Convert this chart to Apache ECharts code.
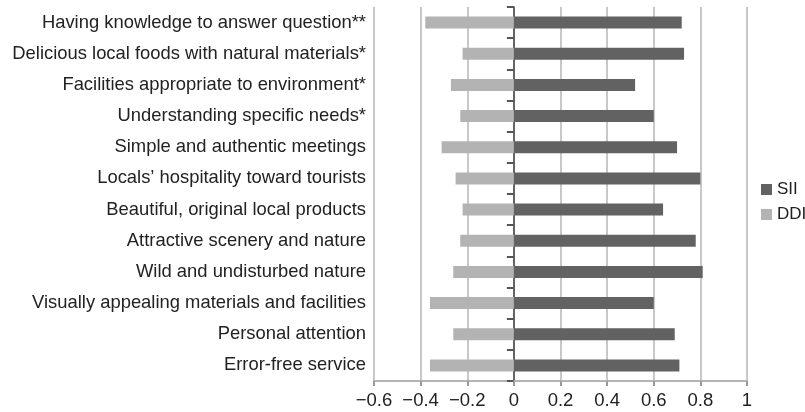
<!DOCTYPE html>
<html>
<head>
<meta charset="utf-8">
<script src="https://cdn.jsdelivr.net/npm/echarts@6/dist/echarts.min.js"></script>
<style>html,body{margin:0;padding:0;background:#fff}#c{width:805px;height:412px}</style>
</head>
<body>
<div id="c"></div>
<script>
const categories = [
  "Having knowledge to answer question**",
  "Delicious local foods with natural materials*",
  "Facilities appropriate to environment*",
  "Understanding specific needs*",
  "Simple and authentic meetings",
  "Locals\u2019 hospitality toward tourists",
  "Beautiful, original local products",
  "Attractive scenery and nature",
  "Wild and undisturbed nature",
  "Visually appealing materials and facilities",
  "Personal attention",
  "Error-free service"
];
const sii = [0.72, 0.73, 0.52, 0.60, 0.70, 0.80, 0.64, 0.78, 0.81, 0.60, 0.69, 0.71];
const ddi = [-0.38, -0.22, -0.27, -0.23, -0.31, -0.25, -0.22, -0.23, -0.26, -0.36, -0.26, -0.36];
const xTicks = [-0.6, 1, 0.2]; // min, max, interval

const chart = echarts.init(document.getElementById('c'), null, {renderer: 'canvas'});
const font = 'Liberation Sans, Arial, Helvetica, sans-serif';
chart.setOption({
  animation: false,
  backgroundColor: '#fff',
  textStyle: {fontFamily: font},
  grid: {left: 374, right: 58, top: 7, bottom: 31, containLabel: false},
  legend: {
    orient: 'vertical', left: 756, top: 176,
    itemWidth: 11, itemHeight: 11, itemGap: 8,
    icon: 'rect',
    textStyle: {fontSize: 17, color: '#222', fontFamily: font},
    data: ['SII', 'DDI']
  },
  xAxis: {
    type: 'value', min: xTicks[0], max: xTicks[1], interval: xTicks[2],
    axisLine: {show: true, onZero: false, lineStyle: {color: '#b4b4b4', width: 2}},
    axisTick: {show: true, length: 5, lineStyle: {color: '#999', width: 2}},
    axisLabel: {
      fontSize: 18.5, color: '#222', margin: 10, fontFamily: font,
      formatter: v => (Math.round(v * 10) / 10).toString().replace('-', '\u2212')
    },
    splitLine: {show: true, lineStyle: {color: '#c8c8c8', width: 2}}
  },
  yAxis: [
    {
      type: 'category', data: categories, inverse: true, position: 'left',
      axisLine: {show: false, onZero: false}, axisTick: {show: false},
      axisLabel: {fontSize: 18.4, color: '#222', margin: 8, fontFamily: font},
      splitLine: {show: false}
    },
    {
      type: 'category', data: categories, inverse: true, position: 'left',
      axisLine: {show: true, onZero: true, onZeroAxisIndex: 0, lineStyle: {color: '#444', width: 1.5}},
      axisTick: {show: true, length: 7, inside: false, lineStyle: {color: '#555', width: 2}},
      axisLabel: {show: false},
      splitLine: {show: false}
    }
  ],
  series: [
    {
      name: 'SII', type: 'bar', data: sii, yAxisIndex: 0, barWidth: 12, barGap: '-100%',
      itemStyle: {color: '#626262'}
    },
    {
      name: 'DDI', type: 'bar', data: ddi, yAxisIndex: 0, barWidth: 12, barGap: '-100%',
      itemStyle: {color: '#b3b3b3'}
    }
  ]
});
</script>
</body>
</html>
